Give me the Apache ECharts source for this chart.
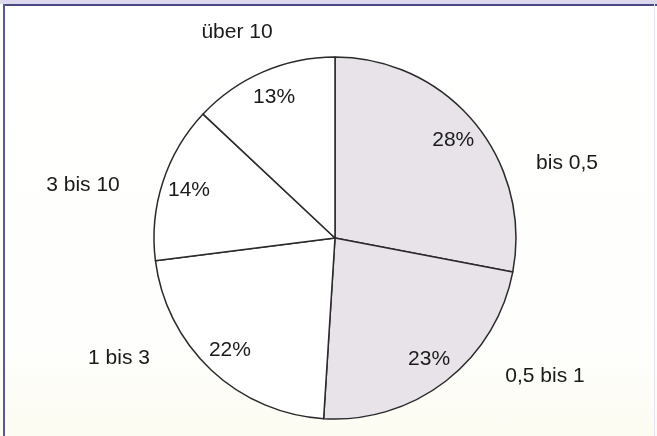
<!DOCTYPE html>
<html>
<head>
<meta charset="utf-8">
<script src="https://cdn.jsdelivr.net/npm/echarts@6/dist/echarts.min.js"></script>
<style>
  html, body { margin: 0; padding: 0; background: #fefefc; }
  #wrap { position: relative; width: 657px; height: 436px; overflow: hidden;
          background: linear-gradient(to bottom, #ffffff 0%, #fefefc 80%, #fdfcf2 100%); }
  #chart { position: absolute; left: 0; top: 0; width: 657px; height: 436px; }
  #topband { position: absolute; left: 0; top: 0; width: 657px; height: 4px; background: #dcd8ee; }
  #topline { position: absolute; left: 3px; top: 4px; width: 654px; height: 2px; background: #4a4a88; }
  #leftline { position: absolute; left: 3px; top: 4px; width: 2px; height: 432px; background: #5a5a8c; }
  #rightline { position: absolute; left: 654px; top: 4px; width: 1px; height: 432px; background: #e6e2ee; }
</style>
</head>
<body>
<div id="wrap">
  <div id="chart"></div>
  <div id="topband"></div>
  <div id="topline"></div>
  <div id="leftline"></div>
  <div id="rightline"></div>
</div>
<script>
const categories = ["bis 0,5", "0,5 bis 1", "1 bis 3", "3 bis 10", "über 10"];
const shares = [28, 23, 22, 14, 13];

const sliceColors = ["#e7e3e9", "#e7e3e9", "#ffffff", "#ffffff", "#ffffff"];
// label anchor points (text placement, not marks)
const outerLabelPos = [[567, 163], [545, 376], [119, 358], [83, 185], [237, 32]];

const font = '"Liberation Sans", Arial, sans-serif';
const data = categories.map((c, i) => ({ name: c, value: shares[i], itemStyle: { color: sliceColors[i] } }));
const overlayData = categories.map((c, i) => ({ name: c, value: shares[i] }));

const chart = echarts.init(document.getElementById('chart'), null, { renderer: 'canvas' });
chart.setOption({
  backgroundColor: 'transparent',
  animation: false,
  series: [
    {
      type: 'pie',
      center: [335, 238],
      radius: [0, 181],
      startAngle: 90,
      clockwise: true,
      avoidLabelOverlap: false,
      silent: true,
      itemStyle: { borderColor: '#2a2a2a', borderWidth: 1.5 },
      label: {
        show: true, position: 'outside', formatter: '{b}',
        fontFamily: font, fontSize: 21, color: '#1a1a1a'
      },
      labelLine: { show: false },
      labelLayout: function (p) {
        const pos = outerLabelPos[p.dataIndex];
        return { x: pos[0], y: pos[1], align: 'center', verticalAlign: 'middle' };
      },
      data: data
    },
    {
      type: 'pie',
      center: [335, 238],
      radius: [120, 181],
      startAngle: 90,
      clockwise: true,
      avoidLabelOverlap: false,
      silent: true,
      itemStyle: { color: 'rgba(0,0,0,0)', borderWidth: 0 },
      label: {
        show: true, position: 'inside', formatter: '{c}%',
        fontFamily: font, fontSize: 21, color: '#1a1a1a'
      },
      labelLine: { show: false },
      data: overlayData
    }
  ]
});
</script>
</body>
</html>
